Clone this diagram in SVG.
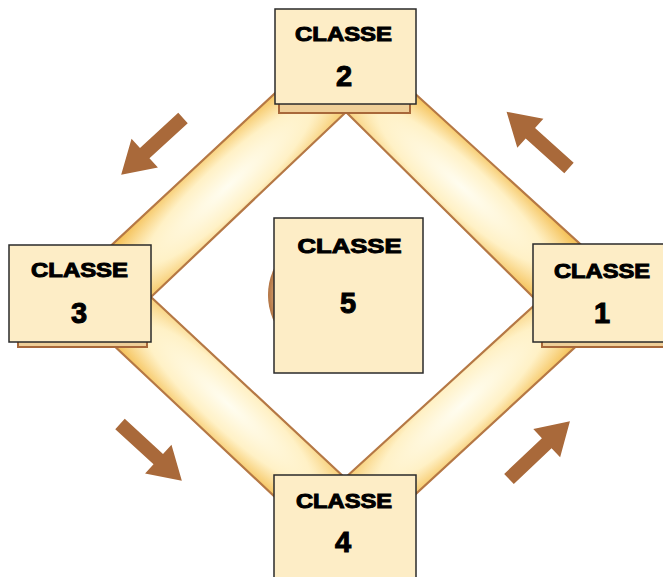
<svg xmlns="http://www.w3.org/2000/svg" width="663" height="577" viewBox="0 0 663 577">
<style>
.box{fill:#fdedc6;stroke:#2a2a2a;stroke-width:1.5}
.shadow{fill:#efcf98;stroke:#a8683a;stroke-width:2}
.edge{fill:none;stroke:#b57845;stroke-width:2.2;stroke-linejoin:round}
.arrow{fill:#a9693a}
.t1{font-family:"Liberation Sans",Arial,sans-serif;font-weight:bold;font-size:20px;fill:#000;stroke:#000;stroke-width:1;text-anchor:middle}
.t2{font-family:"Liberation Sans",Arial,sans-serif;font-weight:bold;font-size:29px;fill:#000;stroke:#000;stroke-width:1;text-anchor:middle}
</style>
<defs>
<radialGradient id="gTL" gradientUnits="userSpaceOnUse" cx="0" cy="0" r="1" gradientTransform="translate(228,186) rotate(-43) scale(200,42)">
<stop offset="0" stop-color="#fffdf0"/><stop offset="0.55" stop-color="#fff1c6"/><stop offset="1" stop-color="#f5c35c"/>
</radialGradient>
<radialGradient id="gTR" gradientUnits="userSpaceOnUse" cx="0" cy="0" r="1" gradientTransform="translate(462,187) rotate(42) scale(200,42)">
<stop offset="0" stop-color="#fffdf0"/><stop offset="0.55" stop-color="#fff1c6"/><stop offset="1" stop-color="#f5c35c"/>
</radialGradient>
<radialGradient id="gBR" gradientUnits="userSpaceOnUse" cx="0" cy="0" r="1" gradientTransform="translate(462,405) rotate(-43) scale(200,42)">
<stop offset="0" stop-color="#fffdf0"/><stop offset="0.55" stop-color="#fff1c6"/><stop offset="1" stop-color="#f5c35c"/>
</radialGradient>
<radialGradient id="gBL" gradientUnits="userSpaceOnUse" cx="0" cy="0" r="1" gradientTransform="translate(228,404) rotate(43) scale(200,42)">
<stop offset="0" stop-color="#fffdf0"/><stop offset="0.55" stop-color="#fff1c6"/><stop offset="1" stop-color="#f5c35c"/>
</radialGradient>
<radialGradient id="gHub" cx="0.5" cy="0.5" r="0.5">
<stop offset="0.8" stop-color="#e9b98a"/><stop offset="1" stop-color="#b27443"/>
</radialGradient>
<path id="arr" d="M0,-7 L52,-7 L52,-19.5 L84,0 L52,19.5 L52,7 L0,7 Z"/>
</defs>

<g id="hub">
<circle cx="330" cy="295" r="62" fill="url(#gHub)"/>
</g>

<g id="connectors">
<polygon points="59,294 344,29 346,112 151,297" fill="url(#gTL)"/>
<polygon points="344,29 634,293 538,302 346,112" fill="url(#gTR)"/>
<polygon points="634,293 343,561 345,478 538,302" fill="url(#gBR)"/>
<polygon points="343,561 59,294 151,297 345,478" fill="url(#gBL)"/>
<polygon class="edge" points="344,29 634,293 343,561 59,294"/>
<polygon class="edge" points="346,112 538,302 345,478 151,297"/>
<use href="#arr" class="arrow" transform="translate(183,118) rotate(137.4)"/>
<use href="#arr" class="arrow" transform="translate(569,168) rotate(222)"/>
<use href="#arr" class="arrow" transform="translate(120,424) rotate(42.6)"/>
<use href="#arr" class="arrow" transform="translate(509,479) rotate(-43.5)"/>
</g>

<g id="classe1">
<rect class="shadow" x="542" y="249" width="130" height="98"/>
<rect class="box" x="533" y="244" width="140" height="98"/>
<text class="t1" x="602" y="278" textLength="96" lengthAdjust="spacingAndGlyphs">CLASSE</text>
<text class="t2" x="602" y="323">1</text>
</g>

<g id="classe2">
<rect class="shadow" x="279" y="14" width="131" height="99"/>
<rect class="box" x="275" y="9" width="141" height="95"/>
<text class="t1" x="343.5" y="41" textLength="97" lengthAdjust="spacingAndGlyphs">CLASSE</text>
<text class="t2" x="344" y="86">2</text>
</g>

<g id="classe3">
<rect class="shadow" x="18" y="250" width="129" height="97"/>
<rect class="box" x="9" y="245" width="142" height="97"/>
<text class="t1" x="79.5" y="277" textLength="97" lengthAdjust="spacingAndGlyphs">CLASSE</text>
<text class="t2" x="79" y="323">3</text>
</g>

<g id="classe4">
<rect class="box" x="274" y="475" width="142" height="110"/>
<text class="t1" x="344" y="508" textLength="96" lengthAdjust="spacingAndGlyphs">CLASSE</text>
<text class="t2" x="343" y="552">4</text>
</g>

<g id="classe5">
<rect class="box" x="274" y="218" width="149" height="155"/>
<text class="t1" x="349.5" y="253" style="font-size:21px" textLength="104" lengthAdjust="spacingAndGlyphs">CLASSE</text>
<text class="t2" x="348" y="313">5</text>
</g>
</svg>
